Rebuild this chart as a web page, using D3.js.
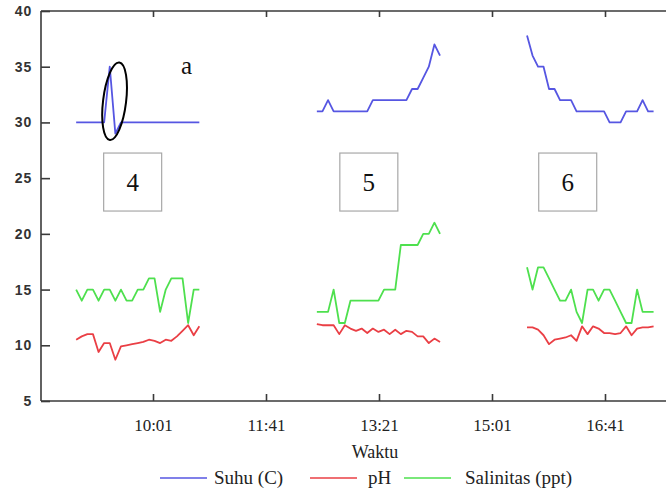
<!DOCTYPE html>
<html>
<head>
<meta charset="utf-8">
<script src="https://cdn.jsdelivr.net/npm/d3@7"></script>
<style>
  body { margin: 0; background: #fff; }
  svg { display: block; }
</style>
</head>
<body>
<div id="chart"></div>
<script>
// Tick labels
var timeTicks = ['10:01', '11:41', '13:21', '15:01', '16:41']
var valueTicks = [5, 10, 15, 20, 25, 30, 35, 40]
var seriesNames = ['Suhu (C)', 'pH', 'Salinitas (ppt)']
var colors = ['#5656e2', '#ea3f45', '#4ee04e']
// Three sampling runs (boxes 4, 5, 6), evenly spaced readings
var runLabels = ['4', '5', '6']
var runStart = ['08:53', '12:26', '15:32']
var runEnd = ['10:42', '14:15', '17:24']
var boxTimes = ['09:43', '13:12', '16:08']
var suhu4 = [30, 30, 30, 30, 30, 30, 35, 29, 30, 30, 30, 30, 30, 30, 30, 30, 30, 30, 30, 30, 30, 30, 30]
var ph4 = [10.5, 10.8, 11.0, 11.0, 9.4, 10.2, 10.2, 8.7, 9.9, 10.0, 10.1, 10.2, 10.3, 10.5, 10.4, 10.2, 10.5, 10.4, 10.8, 11.3, 11.8, 10.9, 11.7]
var sal4 = [15, 14, 15, 15, 14, 15, 15, 14, 15, 14, 14, 15, 15, 16, 16, 13, 15, 16, 16, 16, 12, 15, 15]
var suhu5 = [31, 31, 32, 31, 31, 31, 31, 31, 31, 31, 32, 32, 32, 32, 32, 32, 32, 33, 33, 34, 35, 37, 36]
var ph5 = [11.9, 11.8, 11.8, 11.8, 11.0, 11.8, 11.5, 11.3, 11.5, 11.1, 11.5, 11.2, 11.4, 11.0, 11.4, 11.0, 11.3, 11.2, 10.8, 10.8, 10.2, 10.6, 10.3]
var sal5 = [13, 13, 13, 15, 12, 12, 14, 14, 14, 14, 14, 14, 15, 15, 15, 19, 19, 19, 19, 20, 20, 21, 20]
var suhu6 = [37.8, 36, 35, 35, 33, 33, 32, 32, 32, 31, 31, 31, 31, 31, 31, 30, 30, 30, 31, 31, 31, 32, 31, 31]
var ph6 = [11.6, 11.6, 11.4, 10.9, 10.1, 10.5, 10.6, 10.7, 10.9, 10.4, 11.7, 11.0, 11.7, 11.5, 11.1, 11.1, 11.0, 11.1, 11.7, 10.9, 11.5, 11.6, 11.6, 11.7]
var sal6 = [17, 15, 17, 17, 16, 15, 14, 14, 15, 13, 12, 15, 15, 14, 15, 15, 14, 13, 12, 12, 15, 13, 13, 13]
var runs = [[suhu4, ph4, sal4], [suhu5, ph5, sal5], [suhu6, ph6, sal6]]

var width = 666
var height = 493
var frame = { left: 41, top: 11, right: 666, bottom: 401 }

var parse = d3.timeParse('%H:%M')
var serif = "'Liberation Serif', 'Times New Roman', serif"

var svg = d3
  .select('#chart')
  .append('svg')
  .attr('width', width)
  .attr('height', height)

var x = d3
  .scaleTime()
  .domain([parse(timeTicks[0]), parse(timeTicks[timeTicks.length - 1])])
  .range([153, 605])
var y = d3
  .scaleLinear()
  .domain([5, 40])
  .range([frame.bottom, frame.top])

// frame lines (top and bottom run off the right edge)
svg
  .append('g')
  .attr('stroke', '#3a3a3a')
  .attr('stroke-width', 1.6)
  .selectAll('line')
  .data([
    [frame.left, frame.top, frame.right, frame.top],
    [frame.left, frame.bottom, frame.right, frame.bottom],
    [frame.left, frame.top, frame.left, frame.bottom]
  ])
  .enter()
  .append('line')
  .attr('x1', d => d[0])
  .attr('y1', d => d[1])
  .attr('x2', d => d[2])
  .attr('y2', d => d[3])

var yAxis = svg
  .append('g')
  .attr('transform', `translate(${frame.left},0)`)
  .call(
    d3
      .axisLeft(y)
      .tickValues(valueTicks)
      .tickSize(-9)
      .tickSizeOuter(0)
      .tickPadding(9)
  )
yAxis.select('.domain').remove()
yAxis.selectAll('line').attr('stroke', '#3a3a3a').attr('stroke-width', 1.6)
yAxis
  .selectAll('text')
  .attr('fill', '#333')
  .attr('font-family', "'Liberation Sans', Arial, sans-serif")
  .attr('font-weight', 'bold')
  .attr('font-size', 14)
  .attr('letter-spacing', 0.8)

var xAxis = svg
  .append('g')
  .attr('transform', `translate(0,${frame.bottom})`)
  .call(
    d3
      .axisBottom(x)
      .tickValues(timeTicks.map(parse))
      .tickFormat(d3.timeFormat('%H:%M'))
      .tickSize(-7)
      .tickSizeOuter(0)
      .tickPadding(18)
  )
xAxis.select('.domain').remove()
xAxis.selectAll('line').attr('stroke', '#3a3a3a').attr('stroke-width', 1.6)
xAxis
  .selectAll('text')
  .attr('fill', '#222')
  .attr('font-family', serif)
  .attr('font-size', 17)

var topTicks = svg
  .append('g')
  .attr('transform', `translate(0,${frame.top})`)
  .call(
    d3
      .axisTop(x)
      .tickValues(timeTicks.map(parse))
      .tickFormat('')
      .tickSize(-6)
      .tickSizeOuter(0)
  )
topTicks.select('.domain').remove()
topTicks.selectAll('line').attr('stroke', '#3a3a3a').attr('stroke-width', 1.6)

svg
  .append('text')
  .text('Waktu')
  .attr('x', 375)
  .attr('y', 458)
  .attr('text-anchor', 'middle')
  .attr('font-family', serif)
  .attr('font-size', 18)
  .attr('fill', '#222')

// numbered boxes under each run
var boxSize = 58
var boxes = svg
  .append('g')
  .selectAll('g')
  .data(runLabels)
  .enter()
  .append('g')
  .attr('transform', (d, i) => `translate(${x(parse(boxTimes[i]))},${y(24.65)})`)
boxes
  .append('rect')
  .attr('x', -boxSize / 2)
  .attr('y', -boxSize / 2)
  .attr('width', boxSize)
  .attr('height', boxSize)
  .attr('fill', '#fff')
  .attr('stroke', '#a8a8a8')
  .attr('stroke-width', 1.2)
boxes
  .append('text')
  .text(d => d)
  .attr('text-anchor', 'middle')
  .attr('y', 9)
  .attr('font-family', serif)
  .attr('font-size', 25)
  .attr('fill', '#111')

var line = d3.line()

runs.forEach((run, r) => {
  var t = d3
    .scaleLinear()
    .domain([0, run[0].length - 1])
    .range([parse(runStart[r]), parse(runEnd[r])])
  run.forEach((values, s) => {
    svg
      .append('path')
      .datum(values)
      .attr('d', line.x((d, i) => x(t(i))).y(d => y(d)))
      .attr('fill', 'none')
      .attr('stroke', colors[s])
      .attr('stroke-width', 1.8)
      .attr('stroke-linejoin', 'round')
  })
})

// circled spike and its label
svg
  .append('ellipse')
  .attr('cx', 0)
  .attr('cy', 0)
  .attr('rx', 11.5)
  .attr('ry', 39)
  .attr('transform', `translate(${x(parse('09:27'))},${y(31.9)}) rotate(7)`)
  .attr('fill', 'none')
  .attr('stroke', '#000')
  .attr('stroke-width', 2)
svg
  .append('text')
  .text('a')
  .attr('x', 181)
  .attr('y', 74)
  .attr('font-family', serif)
  .attr('font-size', 25)
  .attr('fill', '#111')

// legend
var legendX = [[160, 214], [310, 368], [404, 465]]
var legend = svg
  .append('g')
  .selectAll('g')
  .data(seriesNames)
  .enter()
  .append('g')
legend
  .append('line')
  .attr('x1', (d, i) => legendX[i][0])
  .attr('x2', (d, i) => legendX[i][0] + 47)
  .attr('y1', 478)
  .attr('y2', 478)
  .attr('stroke', (d, i) => colors[i])
  .attr('stroke-width', 1.6)
legend
  .append('text')
  .text(d => d)
  .attr('x', (d, i) => legendX[i][1])
  .attr('y', 484)
  .attr('font-family', serif)
  .attr('font-size', 19)
  .attr('fill', '#222')
</script>
</body>
</html>
